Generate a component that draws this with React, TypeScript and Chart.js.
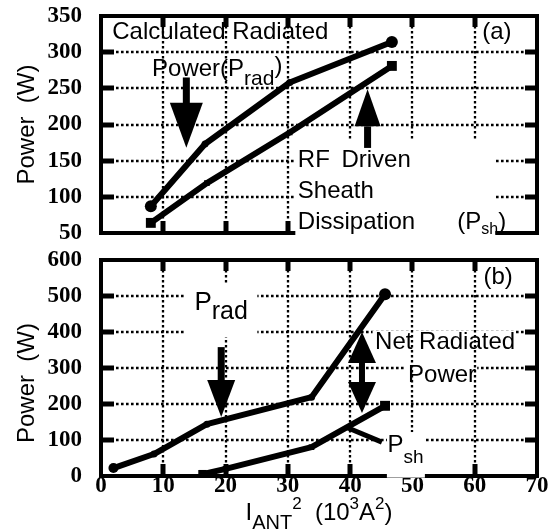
import React, { useEffect, useRef } from 'react';
import { Chart, registerables } from 'chart.js';

Chart.register(...registerables);

// ---------- data ----------
const xTicks = [0, 10, 20, 30, 40, 50, 60, 70];
const topYTicks = [50, 100, 150, 200, 250, 300, 350];
const botYTicks = [0, 100, 200, 300, 400, 500, 600];

// panel (a)
const topPradX = [8, 16.7, 30.3, 46.7];
const topPradY = [87, 173, 258, 314];
const topPshX = [8, 17, 30.3, 46.7];
const topPshY = [64, 119, 189, 281];

// panel (b)
const botPradX = [2, 8.5, 17, 33.8, 45.6];
const botPradY = [22, 61, 144, 219, 505];
const botPshX = [16.3, 20, 33.8, 45.6];
const botPshY = [5, 20, 80, 195];

// ---------- styles / annotations ----------
const SANS = '"Liberation Sans", Arial, sans-serif';
const SERIF_FAMILY = '"Liberation Serif", "Times New Roman", serif';

type Part = { t: string; size?: number; dy?: number };
type TextItem = { x: number; y: number; parts: Part[] };
type Box = { x1: number; x2: number; y1: number; y2: number };
type Arrow = { x: number; from: number; to: number; headLen: number; headW: number; shaftW: number };
type DArrow = { x: number; top: number; bottom: number; headLen: number; headW: number; shaftW: number };
type Seg = { x1: number; y1: number; x2: number; y2: number; w: number };

type Panel = {
  canvasTop: number;
  height: number;
  padTop: number;
  xH: number;
  showX: boolean;
  yMin: number;
  yMax: number;
  yTicks: number[];
  series: { x: number[]; y: number[]; style: string; r: number[] }[];
  texts: TextItem[];
  boxesFull: Box[];
  boxesH: Box[];
  arrows: Arrow[];
  dArrows: DArrow[];
  segs: Seg[];
  yTitleDy: number;
  xTitle: boolean;
};

const topPanel: Panel = {
  canvasTop: 0,
  height: 245,
  padTop: 16,
  xH: 12,
  showX: false,
  yMin: 50,
  yMax: 350,
  yTicks: topYTicks,
  series: [
    { x: topPradX, y: topPradY, style: 'circle', r: [6, 3.5, 3.5, 6] },
    { x: topPshX, y: topPshY, style: 'rect', r: [7, 4, 4, 7] },
  ],
  texts: [
    { x: 1.8, y: 328, parts: [{ t: 'Calculated Radiated' }] },
    { x: 8.2, y: 276, parts: [{ t: 'Power(P' }, { t: 'rad', size: 21, dy: 10 }, { t: ')', dy: -3 }] },
    { x: 61.2, y: 328, parts: [{ t: '(a)' }] },
    { x: 31.6, y: 151, parts: [{ t: 'RF' }] },
    { x: 38.6, y: 151, parts: [{ t: 'Driven' }] },
    { x: 31.6, y: 107, parts: [{ t: 'Sheath' }] },
    { x: 31.6, y: 65, parts: [{ t: 'Dissipation' }] },
    { x: 57.2, y: 65, parts: [{ t: '(P' }, { t: 'sh', size: 16, dy: 7 }, { t: ')' }] },
  ],
  boxesFull: [{ x1: 31.2, x2: 63.3, y1: 178, y2: 37 }],
  boxesH: [],
  arrows: [
    { x: 13.7, from: 265, to: 168, headLen: 45, headW: 33, shaftW: 7 },
    { x: 42.8, from: 169, to: 248.6, headLen: 37, headW: 26, shaftW: 7 },
  ],
  dArrows: [],
  segs: [],
  yTitleDy: 0,
  xTitle: false,
};

const botPanel: Panel = {
  canvasTop: 245,
  height: 284,
  padTop: 15,
  xH: 53,
  showX: true,
  yMin: 0,
  yMax: 600,
  yTicks: botYTicks,
  series: [
    { x: botPradX, y: botPradY, style: 'circle', r: [5, 3.5, 3.5, 3.5, 6] },
    { x: botPshX, y: botPshY, style: 'rect', r: [6, 4, 4, 7] },
  ],
  texts: [
    { x: 61.4, y: 553, parts: [{ t: '(b)' }] },
    { x: 15, y: 480, parts: [{ t: 'P', size: 26 }, { t: 'rad', size: 25, dy: 9 }] },
    { x: 44, y: 372, parts: [{ t: 'Net Radiated' }] },
    { x: 49.3, y: 280, parts: [{ t: 'Power' }] },
    { x: 46, y: 86, parts: [{ t: 'P' }, { t: 'sh', size: 19, dy: 13 }] },
  ],
  boxesFull: [
    { x1: 13.4, x2: 25.1, y1: 533, y2: 386 },
    { x1: 45.9, x2: 52, y1: 122, y2: -4.5 },
  ],
  boxesH: [
    { x1: 43.6, x2: 66.5, y1: 403, y2: 342 },
    { x1: 48.8, x2: 60.4, y1: 311, y2: 250 },
  ],
  arrows: [{ x: 19.3, from: 358, to: 164, headLen: 37, headW: 28, shaftW: 7 }],
  dArrows: [{ x: 41.9, top: 400, bottom: 175, headLen: 31, headW: 28, shaftW: 6 }],
  segs: [{ x1: 45.1, y1: 94, x2: 39.3, y2: 136, w: 5 }],
  yTitleDy: 15,
  xTitle: true,
};

// ---------- drawing helpers ----------
function drawParts(ctx: CanvasRenderingContext2D, x: number, y: number, parts: Part[], base = 24) {
  let cx = x;
  for (const p of parts) {
    ctx.font = `${p.size ?? base}px ${SANS}`;
    ctx.fillText(p.t, cx, y + (p.dy ?? 0));
    cx += ctx.measureText(p.t).width;
  }
}

function partsWidth(ctx: CanvasRenderingContext2D, parts: Part[], base = 24) {
  let w = 0;
  for (const p of parts) {
    ctx.font = `${p.size ?? base}px ${SANS}`;
    w += ctx.measureText(p.t).width;
  }
  return w;
}

function drawArrow(ctx: CanvasRenderingContext2D, x: number, y0: number, y1: number, headLen: number, headW: number, shaftW: number) {
  const dir = Math.sign(y1 - y0);
  const base = y1 - dir * headLen;
  ctx.fillRect(x - shaftW / 2, Math.min(y0, base), shaftW, Math.abs(base - y0) + 1);
  ctx.beginPath();
  ctx.moveTo(x - headW / 2, base);
  ctx.lineTo(x + headW / 2, base);
  ctx.lineTo(x, y1);
  ctx.closePath();
  ctx.fill();
}

function makePlugin(panel: Panel) {
  return {
    id: 'decor',
    beforeDatasetsDraw(chart: any) {
      const ctx: CanvasRenderingContext2D = chart.ctx;
      const { left, right, top, bottom } = chart.chartArea;
      const xs = chart.scales.x;
      const ys = chart.scales.y;
      const white = (b: Box) => {
        const px1 = xs.getPixelForValue(b.x1);
        const px2 = xs.getPixelForValue(b.x2);
        const py1 = ys.getPixelForValue(b.y1);
        const py2 = ys.getPixelForValue(b.y2);
        ctx.fillStyle = '#fff';
        ctx.fillRect(Math.min(px1, px2), Math.min(py1, py2), Math.abs(px2 - px1), Math.abs(py2 - py1));
      };
      ctx.save();
      ctx.strokeStyle = '#000';
      ctx.lineWidth = 2.3;
      ctx.setLineDash([2.6, 2.4]);
      // horizontal gridlines
      for (const v of panel.yTicks) {
        if (v === panel.yMin || v === panel.yMax) continue;
        const py = Math.round(ys.getPixelForValue(v));
        ctx.beginPath();
        ctx.moveTo(left, py);
        ctx.lineTo(right, py);
        ctx.stroke();
      }
      ctx.setLineDash([]);
      panel.boxesH.forEach(white);
      ctx.setLineDash([2.6, 2.4]);
      // vertical gridlines
      for (const v of xTicks) {
        if (v === 0 || v === 70) continue;
        const px = Math.round(xs.getPixelForValue(v));
        ctx.beginPath();
        ctx.moveTo(px, top);
        ctx.lineTo(px, bottom);
        ctx.stroke();
      }
      ctx.setLineDash([]);
      // frame
      ctx.lineWidth = 4;
      ctx.strokeRect(left, top, right - left, bottom - top);
      // tick marks (inward)
      ctx.lineWidth = 5;
      ctx.lineCap = 'butt';
      for (const v of panel.yTicks) {
        if (v === panel.yMin || v === panel.yMax) continue;
        const py = Math.round(ys.getPixelForValue(v));
        ctx.beginPath();
        ctx.moveTo(left, py);
        ctx.lineTo(left + 13, py);
        ctx.moveTo(right - 12, py);
        ctx.lineTo(right, py);
        ctx.stroke();
      }
      for (const v of xTicks) {
        if (v === 0 || v === 70) continue;
        const px = Math.round(xs.getPixelForValue(v));
        ctx.beginPath();
        ctx.moveTo(px, top);
        ctx.lineTo(px, top + 11);
        ctx.moveTo(px, bottom - 12);
        ctx.lineTo(px, bottom);
        ctx.stroke();
      }
      panel.boxesFull.forEach(white);
      ctx.restore();
    },
    afterDatasetsDraw(chart: any) {
      const ctx: CanvasRenderingContext2D = chart.ctx;
      const xs = chart.scales.x;
      const ys = chart.scales.y;
      ctx.save();
      ctx.fillStyle = '#000';
      ctx.strokeStyle = '#000';
      ctx.textAlign = 'left';
      ctx.textBaseline = 'middle';
      for (const t of panel.texts) {
        drawParts(ctx, xs.getPixelForValue(t.x), ys.getPixelForValue(t.y), t.parts);
      }
      for (const a of panel.arrows) {
        drawArrow(ctx, xs.getPixelForValue(a.x), ys.getPixelForValue(a.from), ys.getPixelForValue(a.to), a.headLen, a.headW, a.shaftW);
      }
      for (const d of panel.dArrows) {
        const px = xs.getPixelForValue(d.x);
        const pt = ys.getPixelForValue(d.top);
        const pb = ys.getPixelForValue(d.bottom);
        const mid = (pt + pb) / 2;
        drawArrow(ctx, px, mid, pt, d.headLen, d.headW, d.shaftW);
        drawArrow(ctx, px, mid, pb, d.headLen, d.headW, d.shaftW);
      }
      for (const s of panel.segs) {
        ctx.lineWidth = s.w;
        ctx.beginPath();
        ctx.moveTo(xs.getPixelForValue(s.x1), ys.getPixelForValue(s.y1));
        ctx.lineTo(xs.getPixelForValue(s.x2), ys.getPixelForValue(s.y2));
        ctx.stroke();
      }
      ctx.restore();
    },
    afterDraw(chart: any) {
      const ctx: CanvasRenderingContext2D = chart.ctx;
      const { left, right, top, bottom } = chart.chartArea;
      ctx.save();
      ctx.fillStyle = '#000';
      // y title
      ctx.translate(27, (top + bottom) / 2 + panel.yTitleDy);
      ctx.rotate(-Math.PI / 2);
      ctx.textAlign = 'center';
      ctx.textBaseline = 'middle';
      ctx.font = `24px ${SANS}`;
      ctx.fillText('Power  (W)', 0, 0);
      ctx.restore();
      if (panel.xTitle) {
        ctx.save();
        ctx.fillStyle = '#000';
        ctx.textAlign = 'left';
        ctx.textBaseline = 'middle';
        const parts: Part[] = [
          { t: 'I' },
          { t: 'ANT', size: 20, dy: 10 },
          { t: '2', size: 17, dy: -9 },
          { t: '  (10' },
          { t: '3', size: 17, dy: -9 },
          { t: 'A' },
          { t: '2', size: 17, dy: -9 },
          { t: ')' },
        ];
        const w = partsWidth(ctx, parts);
        drawParts(ctx, (left + right) / 2 - w / 2, 268, parts);
        ctx.restore();
      }
    },
  };
}

function zeroPad(s: any) {
  s.paddingTop = 0;
  s.paddingBottom = 0;
  s.paddingLeft = 0;
  s.paddingRight = 0;
}

function makeChart(canvas: HTMLCanvasElement, panel: Panel) {
  const tickFont = { family: SERIF_FAMILY, size: 23, weight: 'bold' as const };
  return new Chart(canvas, {
    type: 'line',
    data: {
      datasets: panel.series.map((s) => ({
        data: s.x.map((x, i) => ({ x, y: s.y[i] })),
        borderColor: '#000',
        backgroundColor: '#000',
        borderWidth: 6,
        borderJoinStyle: 'round' as const,
        borderCapStyle: 'round' as const,
        pointStyle: s.style as any,
        pointRadius: s.r,
        pointBorderWidth: 0,
        pointBackgroundColor: '#000',
        tension: 0,
        fill: false,
      })),
    },
    options: {
      responsive: false,
      animation: false,
      events: [],
      plugins: { legend: { display: false }, tooltip: { enabled: false }, title: { display: false } },
      layout: { padding: { top: panel.padTop, right: 22, left: 0, bottom: 0 } },
      scales: {
        x: {
          type: 'linear',
          min: 0,
          max: 70,
          afterBuildTicks: (s: any) => {
            s.ticks = xTicks.map((v) => ({ value: v }));
          },
          afterFit: (s: any) => {
            s.height = panel.xH;
            zeroPad(s);
          },
          grid: { display: false, drawTicks: false },
          border: { display: false },
          ticks: {
            display: panel.showX,
            font: tickFont,
            color: '#000',
            padding: -4,
            maxRotation: 0,
            autoSkip: false,
          },
        },
        y: {
          type: 'linear',
          min: panel.yMin,
          max: panel.yMax,
          afterBuildTicks: (s: any) => {
            s.ticks = panel.yTicks.map((v) => ({ value: v }));
          },
          afterFit: (s: any) => {
            s.width = 101;
            zeroPad(s);
          },
          grid: { display: false, drawTicks: false },
          border: { display: false },
          ticks: { font: tickFont, color: '#000', padding: 19, autoSkip: false },
        },
      },
    } as any,
    plugins: [makePlugin(panel)],
  });
}

function PanelCanvas({ panel }: { panel: Panel }) {
  const ref = useRef<HTMLCanvasElement | null>(null);
  useEffect(() => {
    if (!ref.current) return;
    const chart = makeChart(ref.current, panel);
    return () => chart.destroy();
  }, [panel]);
  return (
    <canvas
      ref={ref}
      width={559}
      height={panel.height}
      style={{ position: 'absolute', left: 0, top: panel.canvasTop, width: 559, height: panel.height }}
    />
  );
}

export default function App() {
  return (
    <div style={{ position: 'absolute', left: 0, top: 0, width: 559, height: 529, background: '#fff' }}>
      <PanelCanvas panel={topPanel} />
      <PanelCanvas panel={botPanel} />
    </div>
  );
}
